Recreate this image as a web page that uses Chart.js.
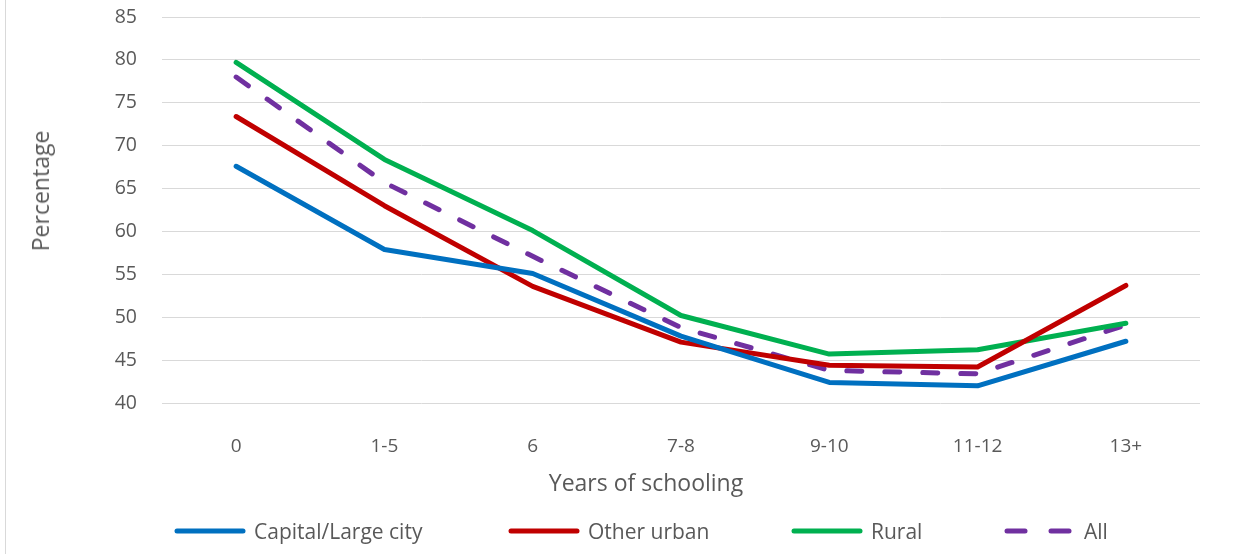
<!DOCTYPE html>
<html>
<head>
<meta charset="utf-8">
<script src="https://cdn.jsdelivr.net/npm/chart.js@4/dist/chart.umd.min.js"></script>
<style>
  html, body { margin: 0; padding: 0; background: #fff; }
  #wrap { position: relative; width: 1233px; height: 554px; overflow: hidden;
    font-family: "Open Sans", "Noto Sans", sans-serif; color: #595959; }
  #frame { position: absolute; left: 5px; top: 0; width: 1px; height: 554px; background: #d9d9d9; }
  #chart { position: absolute; left: 0; top: 0; }
  .axis-title { position: absolute; font-size: 23px; line-height: 28px; white-space: nowrap;
    transform: translate(-50%, -50%); }
  #ytitle { transform: translate(-50%, -50%) rotate(-90deg); }
  .legend-item { position: absolute; top: 519px; height: 24px; display: flex; align-items: center;
    font-size: 21px; white-space: nowrap; }
</style>
</head>
<body>
<div id="wrap">
  <div id="frame"></div>
  <canvas id="chart" width="1233" height="554"></canvas>
  <div id="xtitle" class="axis-title" style="left:646px; top:482px;">Years of schooling</div>
  <div id="ytitle" class="axis-title" style="left:40px; top:191px;">Percentage</div>
  <div id="legend"></div>
</div>
<script>
const categories = ['0', '1-5', '6', '7-8', '9-10', '11-12', '13+'];
const capitalLargeCity = [67.6, 57.9, 55.1, 47.8, 42.4, 42.0, 47.2];
const otherUrban = [73.4, 63.0, 53.6, 47.1, 44.4, 44.2, 53.7];
const rural = [79.7, 68.4, 60.1, 50.2, 45.7, 46.2, 49.3];
const all = [78.0, 65.7, 57.1, 48.8, 43.8, 43.4, 49.1];

const FONT = '"Open Sans", "Noto Sans", sans-serif';
const TEXT = '#595959';

function line(label, data, color, dash) {
  return {
    label,
    data,
    borderColor: color,
    backgroundColor: color,
    borderWidth: 5,
    borderDash: dash || [],
    borderCapStyle: 'round',
    borderJoinStyle: 'round',
    pointRadius: 0,
    tension: 0,
    fill: false,
  };
}

const datasets = [
  line('Capital/Large city', capitalLargeCity, '#0070C0'),
  line('Other urban', otherUrban, '#C00000'),
  line('Rural', rural, '#00B050'),
  line('All', all, '#7030A0', [15, 23]),
];

new Chart(document.getElementById('chart'), {
  type: 'line',
  data: { labels: categories, datasets },
  options: {
    responsive: false,
    animation: false,
    layout: { padding: { left: 26, right: 33, top: 17, bottom: 40 } },
    plugins: {
      tooltip: { enabled: false },
      legend: { display: false },
    },
    scales: {
      x: {
        offset: true,
        grid: { display: false },
        border: { display: false },
        ticks: { color: TEXT, font: { family: FONT, size: 19 }, padding: 24 },
        afterFit(scale) {
          scale.height = 111;
          scale.paddingLeft = 0;
          scale.paddingRight = 0;
        },
      },
      y: {
        min: 40,
        max: 85,
        ticks: { stepSize: 5, color: TEXT, font: { family: FONT, size: 19.5 }, padding: 25 },
        grid: { color: '#d9d9d9', lineWidth: 1, drawTicks: false },
        border: { display: false },
        afterFit(scale) {
          scale.width = 136;
          scale.paddingTop = 0;
          scale.paddingBottom = 0;
        },
      },
    },
  },
});

// legend as html, item positions follow the reference
const legendLeft = [174, 508, 791, 1004];
const legend = document.getElementById('legend');
datasets.forEach((ds, i) => {
  const item = document.createElement('div');
  item.className = 'legend-item';
  item.style.left = legendLeft[i] + 'px';
  const sw = document.createElement('canvas');
  sw.width = 72; sw.height = 10;
  sw.style.marginRight = '8px';
  const c = sw.getContext('2d');
  c.strokeStyle = ds.borderColor;
  c.lineWidth = 5;
  c.lineCap = 'round';
  if (ds.borderDash.length) {
    c.beginPath(); c.moveTo(3, 5); c.lineTo(21, 5); c.stroke();
    c.beginPath(); c.moveTo(47, 5); c.lineTo(65, 5); c.stroke();
  } else {
    c.beginPath(); c.moveTo(3, 5); c.lineTo(69, 5); c.stroke();
  }
  item.appendChild(sw);
  const t = document.createElement('span');
  t.textContent = ds.label;
  item.appendChild(t);
  legend.appendChild(item);
});
</script>
</body>
</html>
